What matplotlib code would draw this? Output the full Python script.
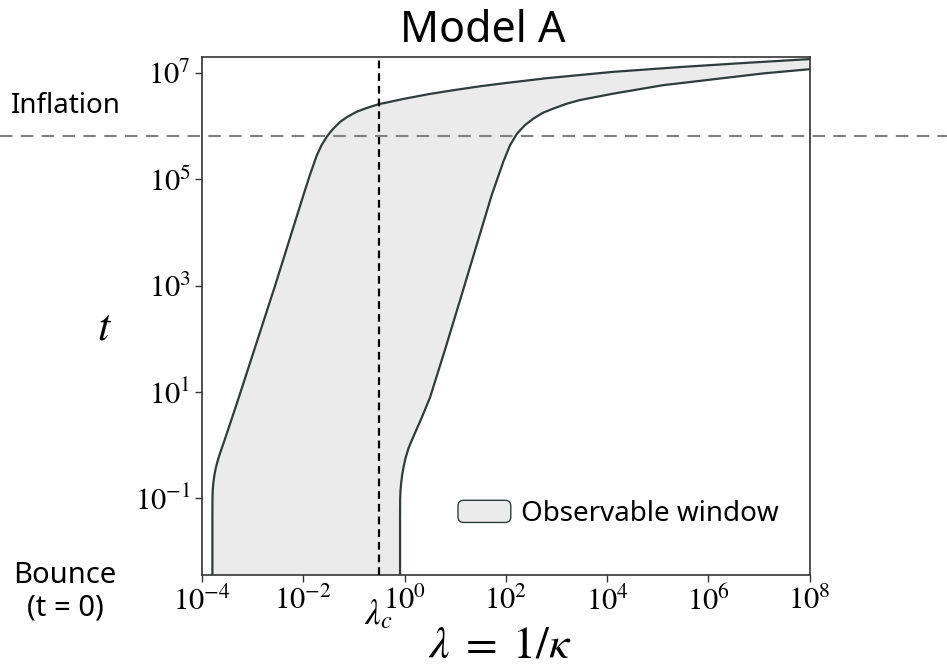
import numpy as np
import matplotlib
matplotlib.use("Agg")
import matplotlib.pyplot as plt
from matplotlib.patches import Patch, FancyBboxPatch
from matplotlib.legend_handler import HandlerPatch
from matplotlib.ticker import FuncFormatter
from matplotlib.transforms import blended_transform_factory

plt.rcParams["mathtext.fontset"] = "stix"
plt.rcParams["font.family"] = ["Noto Sans", "DejaVu Sans"]

# Boundaries of the observable window, as (log10 lambda, log10 t) pairs
left_log_lam = [-3.795, -3.795, -3.793, -3.788, -3.775, -3.755, -3.728, -3.690,
                -3.640, -3.560, -3.412, -3.262, -2.557, -1.998, -1.870, -1.733,
                -1.640, -1.536, -1.430, -1.273, -1.120, -0.944, -0.750, -0.517,
                0.000, 0.500, 1.000, 1.500, 2.000, 2.800, 4.120, 5.440, 6.760, 8.000]
left_log_t = [-2.44, -1.40, -1.00, -0.84, -0.70, -0.56, -0.43, -0.29,
              -0.14, 0.08, 0.50, 0.93, 3.00, 4.70, 5.08, 5.45,
              5.64, 5.80, 5.93, 6.08, 6.18, 6.27, 6.34, 6.41,
              6.515, 6.605, 6.68, 6.75, 6.81, 6.90, 7.02, 7.11, 7.19, 7.26]

right_log_lam = [-0.089, -0.089, -0.087, -0.080, -0.066, -0.045, -0.018, 0.020,
                 0.080, 0.174, 0.340, 0.504, 0.800, 1.100, 1.720, 1.950,
                 2.083, 2.215, 2.280, 2.380, 2.543, 2.730, 2.940, 3.200,
                 3.465, 4.120, 5.110, 6.100, 7.080, 8.000]
right_log_t = [-2.44, -1.40, -1.00, -0.85, -0.70, -0.55, -0.40, -0.24,
               -0.05, 0.16, 0.52, 0.90, 1.80, 2.74, 4.70, 5.33,
               5.64, 5.85, 5.92, 6.02, 6.14, 6.25, 6.33, 6.42,
               6.49, 6.61, 6.77, 6.88, 6.99, 7.07]

lambda_c = 0.31          # critical coupling
t_inflation = 6.6e5      # onset of inflation
x_ticks = [1e-4, 1e-2, 1e0, 1e2, 1e4, 1e6, 1e8]
y_ticks = [1e-1, 1e1, 1e3, 1e5, 1e7]

lam_l = 10.0 ** np.array(left_log_lam)
t_l = 10.0 ** np.array(left_log_t)
lam_r = 10.0 ** np.array(right_log_lam)
t_r = 10.0 ** np.array(right_log_t)

edge = "#2f3c3c"
fill = "#ebebeb"

fig = plt.figure(figsize=(9.47, 6.70), dpi=100)
ax = fig.add_axes([0.2133, 0.1418, 0.6417, 0.7724])
ax.set_xscale("log")
ax.set_yscale("log")
ax.set_xlim(1e-4, 1e8)
ax.set_ylim(10 ** -2.44, 10 ** 7.29)

# shaded window between the two boundaries
poly_x = np.concatenate([lam_l, lam_r[::-1]])
poly_y = np.concatenate([t_l, t_r[::-1]])
ax.fill(poly_x, poly_y, color=fill, lw=0, zorder=1)
ax.plot(lam_l, t_l, color=edge, lw=1.6, zorder=3, solid_joinstyle="round")
ax.plot(lam_r, t_r, color=edge, lw=1.6, zorder=3, solid_joinstyle="round")

# critical coupling
ax.axvline(lambda_c, color="black", lw=1.6, ls=(0, (3.5, 2.2)), zorder=4)
ax.text(lambda_c, -0.044, r"$\lambda_c$",
        transform=blended_transform_factory(ax.transData, ax.transAxes),
        ha="center", va="top", fontsize=25)

# inflation threshold spanning the whole figure width
tr = blended_transform_factory(fig.transFigure, ax.transData)
ax.plot([0, 1], [t_inflation, t_inflation], transform=tr, color="#7f7f7f",
        lw=1.5, ls=(0, (6, 4)), clip_on=False, zorder=5)

ax.set_xticks(x_ticks)
ax.set_yticks(y_ticks)
ax.minorticks_off()
pow_fmt = FuncFormatter(lambda v, pos: r"$10^{%d}$" % int(round(np.log10(v))))
ax.xaxis.set_major_formatter(pow_fmt)
ax.yaxis.set_major_formatter(pow_fmt)
ax.tick_params(direction="out", length=5, width=1.0, color="#333333",
               labelsize=22, pad=3)
for s in ax.spines.values():
    s.set_color("#333333")
    s.set_linewidth(1.2)


def round_box(legend, orig_handle, xdescent, ydescent, width, height, fontsize):
    return FancyBboxPatch((-xdescent, -ydescent), width, height,
                          boxstyle="round,pad=0,rounding_size=4")


handle = Patch(facecolor=fill, edgecolor=edge, linewidth=1.0, label="Observable window")
ax.legend(handles=[handle], loc="center left", bbox_to_anchor=(458 / 947, 1 - 514 / 670),
          bbox_transform=fig.transFigure, frameon=False, borderpad=0, borderaxespad=0,
          fontsize=20, handlelength=1.9, handleheight=0.85, handletextpad=0.38,
          handler_map={Patch: HandlerPatch(patch_func=round_box)})

fig.text(483 / 947, 1 - 42 / 670, "Model A", ha="center", va="baseline", fontsize=31)
fig.text(11 / 947, 1 - 113 / 670, "Inflation", ha="left", va="baseline", fontsize=20)
fig.text(65 / 947, 1 - 561 / 670, "Bounce\n(t = 0)", ha="center", va="top",
         multialignment="center", fontsize=21, linespacing=1.15)
fig.text(105 / 947, 1 - 329 / 670, r"$t$", ha="center", va="center", fontsize=32)
fig.text(500 / 947, 1 - 658 / 670, r"$\lambda\;=\;1/\kappa$", ha="center",
         va="baseline", fontsize=33)

fig.savefig("out.png", dpi=100)
